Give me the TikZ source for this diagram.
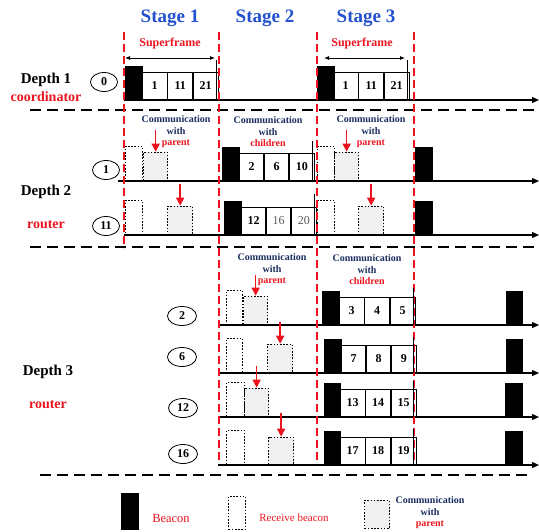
\documentclass[tikz,border=0pt]{standalone}
\usepackage{fontspec}
\setmainfont{Liberation Serif}
\usetikzlibrary{shapes.geometric,arrows.meta}
\definecolor{stageblue}{RGB}{35,80,205}
\definecolor{navy}{RGB}{25,45,95}
\definecolor{commgray}{RGB}{240,240,240}
\definecolor{sepred}{RGB}{235,20,30}
\newcommand\slotrow[7]{%
  \node[slotbox,minimum width=#7] (#1a) at (#2,#3) {#4};
  \node[slotbox,minimum width=#7] (#1b) at (#1a.south east) {#5};
  \node[slotbox,minimum width=#7] (#1c) at (#1b.south east) {#6};}
\begin{document}
\begin{tikzpicture}[x=1pt,y=-1pt,
  beaconbox/.style={draw, fill=black, inner sep=0, minimum width=17, minimum height=34, anchor=south west},
  recvbox/.style={draw, line width=1.3pt, dash pattern=on 1.6pt off 1.6pt, inner sep=0, minimum width=17, minimum height=34, anchor=south west},
  commbox/.style={draw, line width=1.3pt, dash pattern=on 1.6pt off 1.6pt, fill=commgray, inner sep=0, minimum width=24, minimum height=28, anchor=south west},
  slotbox/.style={draw, line width=0.8pt, inner sep=0, minimum height=27.5, anchor=south west, font=\fontsize{12}{12}\selectfont\bfseries},
  timeline/.style={line width=1.2pt, -{Triangle[length=7pt,width=6pt]}},
  stagesep/.style={sepred, line width=1.2pt, dash pattern=on 8pt off 4pt},
  rowsep/.style={black, line width=1.3pt, dash pattern=on 11pt off 6pt},
  redarrow/.style={sepred, line width=1.6pt, -{Triangle[length=8pt,width=8pt]}},
  nodeell/.style={draw, ellipse, line width=0.8pt, minimum width=27, minimum height=19, inner sep=0, font=\fontsize{12}{12}\selectfont\bfseries},
  depthlbl/.style={font=\fontsize{15}{15}\selectfont\bfseries},
  rolelbl/.style={text=sepred, font=\fontsize{14}{14}\selectfont\bfseries},
  stagelbl/.style={text=stageblue, font=\fontsize{19}{19}\selectfont\bfseries},
  sftxt/.style={text=sepred, font=\fontsize{12}{12}\selectfont\bfseries},
  commtxt/.style={align=center, text=navy, inner sep=0, font=\fontsize{10}{11.5}\selectfont\bfseries},
  sfarrow/.style={line width=0.8pt, {Latex[length=5pt,width=4pt]}-{Latex[length=5pt,width=4pt]}},
  marker/.style={line width=0.8pt},
  legtxt/.style={text=sepred, font=\fontsize{12.5}{12.5}\selectfont}
]
\useasboundingbox (0,0) rectangle (539,531);

% stage labels
\node[stagelbl] (s1) at (170,18) {Stage 1};
\node[stagelbl] (s2) at (265,18) {Stage 2};
\node[stagelbl] (s3) at (366,18) {Stage 3};

% ---------------- Depth 1
\node[depthlbl] (d1) at (46,80) {Depth 1};
\node[rolelbl] (r1) at (46,97) {coordinator};
\node[nodeell] (n0) at (104,82) {0};
\coordinate (t0s) at (124,100); \coordinate (t0e) at (539,100);
\draw[timeline] (t0s) -- (t0e);
\node[sftxt] (sf1) at (170,44) {Superframe};
\coordinate (sf1l) at (125,58); \coordinate (sf1r) at (215,58);
\draw[sfarrow] (sf1l) -- (sf1r);
\node[beaconbox,minimum height=34] (b0a) at (125,100) {};
\slotrow{d1s}{142}{100}{1}{11}{21}{24.67}
\coordinate (m0at) at (216,60); \coordinate (m0ab) at (216,100);
\draw[marker] (m0at) -- (m0ab);
\node[sftxt] (sf3) at (362,44) {Superframe};
\coordinate (sf3l) at (324,58); \coordinate (sf3r) at (405,58);
\draw[sfarrow] (sf3l) -- (sf3r);
\node[beaconbox] (b0c) at (317,100) {};
\slotrow{d3s}{333}{100}{1}{11}{21}{24.67}
\coordinate (m0ct) at (407,60); \coordinate (m0cb) at (407,100);
\draw[marker] (m0ct) -- (m0cb);

% ---------------- Depth 2
\node[depthlbl] (d2) at (46,192) {Depth 2};
\node[rolelbl] (r2) at (46,225) {router};
\node[commtxt] (ct1) at (176,132) {Communication\\with\\\textcolor{sepred}{parent}};
\node[commtxt] (ct2) at (268,132) {Communication\\with\\\textcolor{sepred}{children}};
\node[commtxt] (ct3) at (371,132) {Communication\\with\\\textcolor{sepred}{parent}};

% node 1
\node[nodeell] (n1) at (106,170) {1};
\coordinate (t1s) at (118,181); \coordinate (t1e) at (539,181);
\draw[timeline] (t1s) -- (t1e);
\node[recvbox] (r1a) at (125,181) {};
\node[commbox] (c1a) at (143,181) {};
\draw[redarrow] ([yshift=22pt]c1a.north) -- (c1a.north);
\node[beaconbox] (b1b) at (222,181) {};
\slotrow{n1s}{239}{181}{2}{6}{10}{24.33}
\coordinate (m1t) at (312,141); \coordinate (m1b) at (312,181);
\draw[marker] (m1t) -- (m1b);
\node[recvbox] (r1c) at (317,181) {};
\node[commbox] (c1c) at (334,181) {};
\draw[redarrow] ([yshift=22pt]c1c.north) -- (c1c.north);
\node[beaconbox] (b1d) at (415,181) {};

% node 11
\node[nodeell] (n11) at (106,226) {11};
\coordinate (t11s) at (124,235); \coordinate (t11e) at (539,235);
\draw[timeline] (t11s) -- (t11e);
\node[recvbox] (r11a) at (125,235) {};
\node[commbox,minimum width=25] (c11a) at (167,235) {};
\draw[redarrow] ([yshift=22pt]c11a.north) -- (c11a.north);
\node[beaconbox] (b11b) at (224,235) {};
\slotrow{n11s}{241}{235}{12}{\mdseries\textcolor{black!65}{16}}{\mdseries\textcolor{black!65}{20}}{24.33}
\coordinate (m11t) at (314,194); \coordinate (m11b) at (314,235);
\draw[marker] (m11t) -- (m11b);
\node[recvbox] (r11c) at (317,235) {};
\node[commbox,minimum width=25] (c11c) at (358,235) {};
\draw[redarrow] ([yshift=22pt]c11c.north) -- (c11c.north);
\node[beaconbox] (b11d) at (415,235) {};

% ---------------- Depth 3
\node[depthlbl] (d3) at (48,372) {Depth 3};
\node[rolelbl] (r3) at (48,405) {router};
\node[commtxt] (ct4) at (272,270) {Communication\\with\\\textcolor{sepred}{parent}};
\node[commtxt] (ct5) at (367,270) {Communication\\with\\\textcolor{sepred}{children}};

% node 2
\node[nodeell,minimum width=29] (n2) at (182,316) {2};
\coordinate (t2s) at (218,325); \coordinate (t2e) at (539,325);
\draw[timeline] (t2s) -- (t2e);
\node[recvbox,minimum width=16] (r2a) at (226,325) {};
\node[commbox] (c2a) at (243,325) {};
\draw[redarrow] ([yshift=21pt]c2a.north) -- (c2a.north);
\node[beaconbox] (b2b) at (322,325) {};
\slotrow{n2s}{339}{325}{3}{4}{5}{24.67}
\node[beaconbox,minimum width=16] (b2c) at (506,325) {};

% node 6
\node[nodeell,minimum width=29] (n6) at (182,357) {6};
\coordinate (t6s) at (218,373); \coordinate (t6e) at (539,373);
\draw[timeline] (t6s) -- (t6e);
\node[recvbox,minimum width=16] (r6a) at (226,373) {};
\node[commbox,minimum width=25] (c6a) at (267,373) {};
\draw[redarrow] ([yshift=22pt]c6a.north) -- (c6a.north);
\node[beaconbox] (b6b) at (324,373) {};
\slotrow{n6s}{341}{373}{7}{8}{9}{24.33}
\node[beaconbox,minimum width=16] (b6c) at (506,373) {};

% node 12
\node[nodeell,minimum width=29] (n12) at (183,408) {12};
\coordinate (t12s) at (218,417); \coordinate (t12e) at (539,417);
\draw[timeline] (t12s) -- (t12e);
\node[recvbox,minimum width=18] (r12a) at (226,417) {};
\node[commbox] (c12a) at (244,417) {};
\draw[redarrow] ([yshift=22pt]c12a.north) -- (c12a.north);
\node[beaconbox,minimum width=16] (b12b) at (324,417) {};
\slotrow{n12s}{340}{417}{13}{14}{15}{24.67}
\node[beaconbox] (b12c) at (505,417) {};

% node 16
\node[nodeell,minimum width=29] (n16) at (183,454) {16};
\coordinate (t16s) at (218,465); \coordinate (t16e) at (539,465);
\draw[timeline] (t16s) -- (t16e);
\node[recvbox,minimum width=18] (r16a) at (226,465) {};
\node[commbox,minimum width=25,minimum height=27] (c16a) at (268,465) {};
\draw[redarrow] ([yshift=24pt]c16a.north) -- (c16a.north);
\node[beaconbox,minimum width=16] (b16b) at (324,465) {};
\slotrow{n16s}{340}{465}{17}{18}{19}{24.67}
\node[beaconbox] (b16c) at (505,465) {};

% ---------------- separators
\coordinate (h1l) at (30,110); \coordinate (h1r) at (539,110);
\coordinate (h2l) at (30,247); \coordinate (h2r) at (539,247);
\coordinate (h3l) at (40,475); \coordinate (h3r) at (530,475);
\draw[rowsep] (h1l) -- (h1r);
\draw[rowsep] (h2l) -- (h2r);
\draw[rowsep] (h3l) -- (h3r);

\coordinate (v1t) at (124,32); \coordinate (v1b) at (124,248);
\coordinate (v2t) at (219,32); \coordinate (v2b) at (219,460);
\coordinate (v3t) at (317,32); \coordinate (v3b) at (317,460);
\coordinate (v4t) at (414,32); \coordinate (v4b) at (414,460);
\draw[stagesep] (v1t) -- (v1b);
\draw[stagesep] (v2t) -- (v2b);
\draw[stagesep] (v3t) -- (v3b);
\draw[stagesep] (v4t) -- (v4b);

% end-of-superframe markers in depth 3
\coordinate (m2t) at (413.5,288); \coordinate (m2b) at (413.5,325);
\coordinate (m6t) at (413.5,337); \coordinate (m6b) at (413.5,373);
\coordinate (m12t) at (413.5,381); \coordinate (m12b) at (413.5,417);
\coordinate (m16t) at (413.5,429); \coordinate (m16b) at (413.5,465);
\draw[marker] (m2t) -- (m2b);
\draw[marker] (m6t) -- (m6b);
\draw[marker] (m12t) -- (m12b);
\draw[marker] (m16t) -- (m16b);

% ---------------- legend
\node[beaconbox,minimum height=36] (lb) at (121,529) {};
\node[legtxt] (lbt) at (171,518) {Beacon};
\node[recvbox,minimum height=33] (lr) at (228,530) {};
\node[legtxt,font=\fontsize{11}{11}\selectfont] (lrt) at (294,518) {Receive beacon};
\node[commbox,minimum width=25] (lc) at (364,529) {};
\node[commtxt] (lct) at (430,513) {Communication\\with\\\textcolor{sepred}{parent}};
\end{tikzpicture}
\end{document}
